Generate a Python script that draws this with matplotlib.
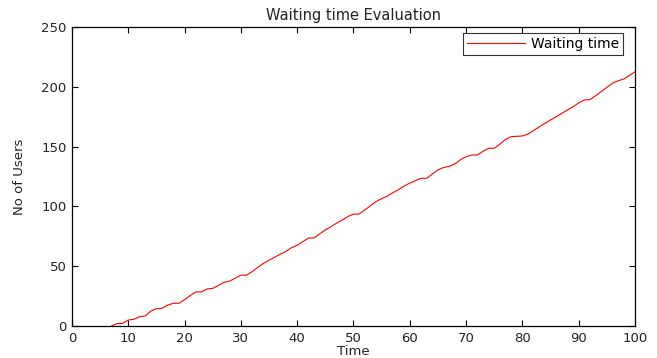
import matplotlib.pyplot as plt
import numpy as np

# (integer time steps)
tiempo = list(range(7, 101))
usuarios = [0, 2, 2.2, 5, 5.6, 7.8, 8.4, 12.5, 14.5, 14.8,
            17.4, 19, 19, 22, 25.5, 28.5, 28.5, 31, 31.4, 34,
            36.5, 37.5, 40, 42.5, 42.5, 45.5, 49, 52.3, 55, 57.5,
            60, 62.5, 65.5, 67.5, 70.5, 73.5, 73.6, 77, 80.3, 83,
            86, 88.6, 91.5, 93.6, 93.6, 97, 100.5, 104, 106.5, 108.5,
            111.5, 114, 117, 119.5, 121.5, 123.5, 123.5, 127, 130.5, 132.5,
            133.5, 135.5, 139, 141.5, 143, 143, 146, 148.6, 148.6, 152,
            156, 158.3, 158.6, 158.9, 160.5, 163.5, 166.5, 169.5, 172.2, 175,
            177.8, 180.6, 183.3, 186.5, 189, 189.3, 192.5, 196, 199.5, 203,
            205, 206.5, 209.5, 212.5]

xticks = list(range(0, 101, 10))
yticks = list(range(0, 251, 50))

plt.rcParams['font.family'] = ['DejaVu Sans']

fig = plt.figure(figsize=(6.57, 3.58), dpi=100)
ax = fig.add_axes([0.1096, 0.0894, 0.8569, 0.8352])

ax.plot(tiempo, usuarios, color='red', linewidth=0.8, label='Waiting time')

ax.set_xlim(0, 100)
ax.set_ylim(0, 250)
ax.set_xticks(xticks)
ax.set_yticks(yticks)
ax.tick_params(direction='in', top=True, right=True, length=4, width=0.8,
               labelsize=9.5, pad=4, labelcolor='#222222')
for s in ax.spines.values():
    s.set_linewidth(0.9)

ax.set_title('Waiting time Evaluation', fontsize=10.5, pad=5, color='#222222')
ax.set_xlabel('Time', fontsize=9.5, labelpad=0, color='#222222')
ax.set_ylabel('No of Users', fontsize=9.5, labelpad=11, color='#222222')

leg = ax.legend(loc='upper right', bbox_to_anchor=(0.979, 0.980), borderaxespad=0,
                fontsize=10, frameon=True, fancybox=False,
                handlelength=4.2, handletextpad=0.4, borderpad=0.3)
leg.get_frame().set_edgecolor('black')
leg.get_frame().set_linewidth(0.8)

plt.savefig('out.png', dpi=100)
